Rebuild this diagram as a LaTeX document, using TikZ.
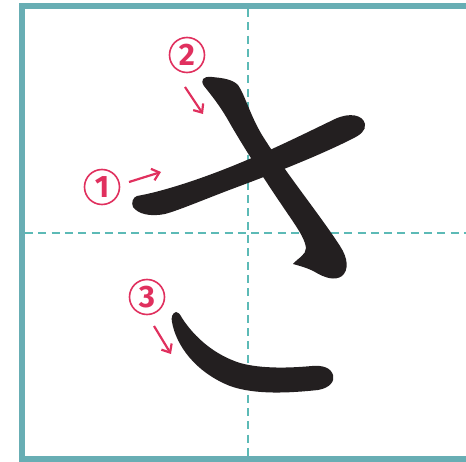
\documentclass[tikz,border=0pt]{standalone}
\usepackage{fontspec}
\setsansfont{Fira Sans}
\usetikzlibrary{arrows.meta}
\definecolor{framecol}{RGB}{104,174,180}
\definecolor{guidecol}{RGB}{92,186,182}
\definecolor{inkcol}{RGB}{35,31,32}
\definecolor{redcol}{RGB}{224,48,94}
\tikzset{
  guideline/.style={draw=guidecol, line width=2pt, dash pattern=on 8pt off 5.3pt},
  numcircle/.style={circle, draw=redcol, line width=1.6pt, minimum size=35pt, inner sep=0pt,
    text=redcol, font=\sffamily\bfseries\fontsize{31}{31}\selectfont},
  orderarrow/.style={draw=redcol, line width=2.2pt, -{Straight Barb[length=7pt,width=12pt,line width=2.2pt]}},
  brush/.style={fill=inkcol}
}
\begin{document}
\begin{tikzpicture}[x=1pt,y=-1pt]
\useasboundingbox (0,0) rectangle (466,462);
% guides
\draw[guideline] (248,9) -- (248,456);
\draw[guideline] (25,233) -- (466,233);
% frame
\draw[draw=framecol, line width=6pt, line join=miter] (470,6) -- (22,6) -- (22,459) -- (470,459);
% stroke 1
\fill[brush] (137,196) .. controls (160,192) and (200,180) .. (247,160)
  .. controls (280,146) and (310,131) .. (335,119)
  .. controls (350,112) and (363,115) .. (365,124)
  .. controls (366,131) and (360,135) .. (352,139)
  .. controls (320,155) and (280,171) .. (240,186)
  .. controls (210,197) and (180,210) .. (165,214)
  .. controls (150,217) and (138,214) .. (133,207)
  .. controls (131,203) and (133,197) .. (137,196) -- cycle;
% stroke 2
\fill[brush] (204,86) .. controls (200,80) and (203,76) .. (212,77)
  .. controls (222,78) and (232,79) .. (238,85)
  .. controls (245,95) and (250,115) .. (262,135)
  .. controls (285,172) and (320,215) .. (340,246)
  .. controls (348,258) and (349,270) .. (342,276)
  .. controls (335,281) and (325,278) .. (315,272)
  .. controls (308,268) and (300,266) .. (293,264)
  .. controls (298,258) and (306,255) .. (306,248)
  .. controls (305,240) and (300,232) .. (292,220)
  .. controls (270,188) and (245,150) .. (228,120)
  .. controls (220,106) and (212,96) .. (204,86) -- cycle;
% stroke 3
\fill[brush] (176,312) .. controls (172,313) and (171,318) .. (172,322)
  .. controls (176,345) and (195,372) .. (230,386)
  .. controls (255,395) and (290,393) .. (318,390)
  .. controls (330,388) and (335,381) .. (333,375)
  .. controls (331,368) and (323,365) .. (312,366)
  .. controls (290,368) and (262,369) .. (240,363)
  .. controls (215,355) and (195,338) .. (182,318)
  .. controls (180,314) and (178,312) .. (176,312) -- cycle;
% numbers
\node[numcircle] (n1) at (102,187) {1};
\node[numcircle] (n2) at (187,55) {2};
\node[numcircle] (n3) at (147,297) {3};
% arrows
\coordinate (a1s) at (129,182); \coordinate (a1e) at (161,172);
\coordinate (a2s) at (185,87);  \coordinate (a2e) at (203,114);
\coordinate (a3s) at (154,326); \coordinate (a3e) at (171,354);
\draw[orderarrow] (a1s) -- (a1e);
\draw[orderarrow] (a2s) -- (a2e);
\draw[orderarrow] (a3s) -- (a3e);
\end{tikzpicture}
\end{document}
